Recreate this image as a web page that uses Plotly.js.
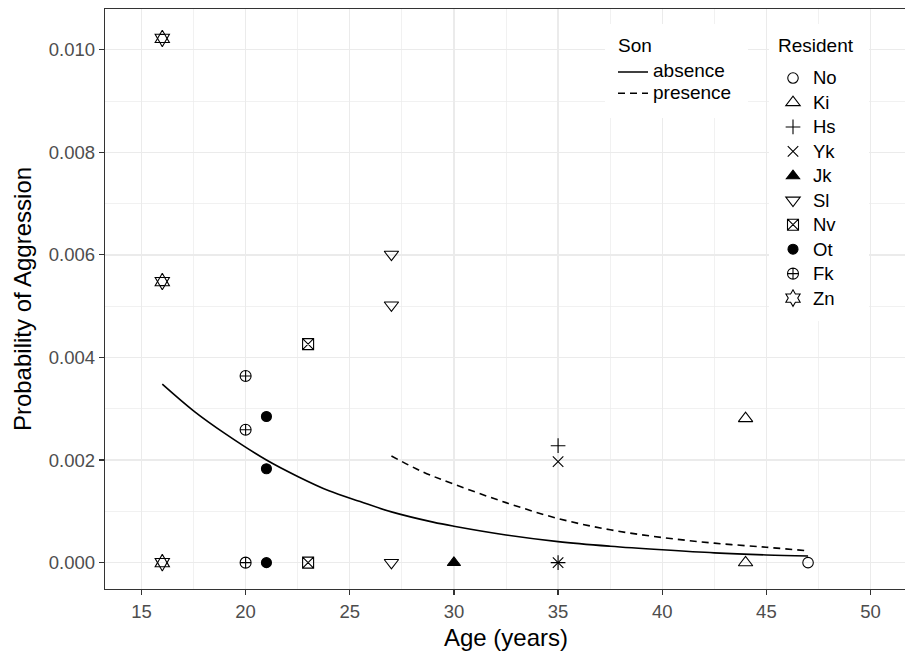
<!DOCTYPE html>
<html>
<head>
<meta charset="utf-8">
<script src="https://cdn.plot.ly/plotly-3.0.1.min.js"></script>
<style>
  html, body { margin: 0; padding: 0; overflow: hidden; background: #ffffff; }
  #chart { width: 910px; height: 656px; }
</style>
</head>
<body>
<div id="chart"></div>
<script>
// ---------------- data ----------------
const sonLevels = ['absence', 'presence'];

const ageAbsence  = [16, 17.5, 19, 21, 22.5, 24, 25.5, 27, 29, 30, 32.5, 35, 37.5, 40, 42.5, 45, 47];
const probAbsence = [0.00348, 0.00296, 0.00252, 0.00200, 0.00168, 0.00140, 0.00119, 0.00099, 0.00079, 0.00071, 0.00054, 0.00041, 0.00032, 0.00025, 0.00019, 0.00015, 0.00013];

const agePresence  = [27, 28.5, 30, 32.5, 35, 37.5, 40, 42.5, 45, 47];
const probPresence = [0.00208, 0.00177, 0.00153, 0.00117, 0.00086, 0.00064, 0.00049, 0.00038, 0.00030, 0.00023];

const residents = ['No', 'Ki', 'Hs', 'Yk', 'Jk', 'Sl', 'Nv', 'Ot', 'Fk', 'Zn'];

const ageNo = [47];           const probNo = [0];
const ageKi = [44, 44];       const probKi = [0.00281, 0];
const ageHs = [35, 35];       const probHs = [0.00228, 0];
const ageYk = [35, 35];       const probYk = [0.00197, 0];
const ageJk = [30];           const probJk = [0];
const ageSl = [27, 27, 27];   const probSl = [0.00601, 0.00502, 0];
const ageNv = [23, 23];       const probNv = [0.00426, 0];
const ageOt = [21, 21, 21];   const probOt = [0.00285, 0.00183, 0];
const ageFk = [20, 20, 20];   const probFk = [0.00364, 0.00259, 0];
const ageZn = [16, 16, 16];   const probZn = [0.01022, 0.00548, 0];

const xTickVals = [15, 20, 25, 30, 35, 40, 45, 50];
const yTickVals = [0, 0.002, 0.004, 0.006, 0.008, 0.010];

const sonTitle = 'Son';
const residentTitle = 'Resident';

// ---------------- styles ----------------
const FONT = 'Liberation Sans, Arial, Helvetica, sans-serif';
const residentData = {
  No: [ageNo, probNo], Ki: [ageKi, probKi], Hs: [ageHs, probHs], Yk: [ageYk, probYk],
  Jk: [ageJk, probJk], Sl: [ageSl, probSl], Nv: [ageNv, probNv], Ot: [ageOt, probOt],
  Fk: [ageFk, probFk], Zn: [ageZn, probZn]
};
const residentStyle = {
  No: { symbol: 'circle-open', size: 10.5 },
  Ki: { symbol: 'triangle-up-open', size: 12.5 },
  Hs: { symbol: 'cross-thin-open', size: 10.5 },
  Yk: { symbol: 'x-thin-open', size: 10.5 },
  Jk: { symbol: 'triangle-up', size: 11.5 },
  Sl: { symbol: 'triangle-down-open', size: 12.5 },
  Nv: { symbol: 'square-x-open', size: 11 },
  Ot: { symbol: 'circle', size: 10 },
  Fk: { symbol: 'circle-cross-open', size: 11 },
  Zn: { symbol: 'hexagram-open', size: 12.5 }
};
function big(txt, px) { return '<span style="font-size:' + px + 'px">' + txt + '</span>'; }

const traces = [];
traces.push({
  type: 'scatter', mode: 'lines', name: big(sonLevels[0], 19), legend: 'legend',
  x: ageAbsence, y: probAbsence,
  line: { color: '#000000', width: 1.6, shape: 'spline', dash: 'solid' },
  hoverinfo: 'x+y'
});
traces.push({
  type: 'scatter', mode: 'lines', name: big(sonLevels[1], 19), legend: 'legend',
  x: agePresence, y: probPresence,
  line: { color: '#000000', width: 1.6, shape: 'spline', dash: '7px,5px' },
  hoverinfo: 'x+y'
});

residents.forEach(function (r) {
  const st = residentStyle[r];
  traces.push({
    type: 'scatter', mode: 'markers', name: big(r, 18.5), legend: 'legend2',
    x: residentData[r][0], y: residentData[r][1],
    marker: {
      symbol: st.symbol, size: st.size, color: '#000000',
      line: { color: '#000000', width: 1.1 }
    },
    cliponaxis: false
  });
  if (r === 'Zn') {
    // inner hexagon gives the two overlapping triangles their inner edges
    traces.push({
      type: 'scatter', mode: 'markers', name: r, legend: 'legend2', showlegend: false,
      x: residentData[r][0], y: residentData[r][1],
      marker: {
        symbol: 'hexagon2-open', size: st.size * 0.76, color: '#000000',
        line: { color: '#000000', width: 1.1 }
      },
      hoverinfo: 'skip'
    });
  }
});

// pixel helpers for the plot area (105..907 x 9..589)
function px2x(p) { return (p - 105) / 802; }
function px2y(p) { return (589 - p) / 580; }

const gridCol = '#EBEBEB';
const layout = {
  width: 910, height: 656,
  margin: { l: 105, r: 3, t: 9, b: 67 },
  paper_bgcolor: '#ffffff', plot_bgcolor: '#ffffff',
  font: { family: FONT, color: '#000000' },
  xaxis: {
    range: [13.25, 51.75],
    tickvals: xTickVals,
    ticks: 'outside', ticklen: 5, tickwidth: 1.2, tickcolor: '#333333',
    tickfont: { family: FONT, size: 18.5, color: '#4D4D4D' },
    showgrid: true, gridcolor: gridCol, gridwidth: 1.4,
    minor: { dtick: 2.5, tick0: 0, showgrid: true, gridcolor: gridCol, gridwidth: 0.7, ticks: '' },
    showline: true, linecolor: '#333333', linewidth: 1.3, mirror: true,
    zeroline: false,
    title: { text: 'Age (years)', font: { family: FONT, size: 24, color: '#000000' }, standoff: 8 }
  },
  yaxis: {
    range: [-0.000514, 0.010794],
    tickvals: yTickVals, tickformat: '.3f',
    ticks: 'outside', ticklen: 5, tickwidth: 1.2, tickcolor: '#333333',
    tickfont: { family: FONT, size: 18.5, color: '#4D4D4D' },
    showgrid: true, gridcolor: gridCol, gridwidth: 1.4,
    minor: { dtick: 0.001, tick0: 0, showgrid: true, gridcolor: gridCol, gridwidth: 0.7, ticks: '' },
    showline: true, linecolor: '#333333', linewidth: 1.3, mirror: true,
    zeroline: false,
    title: { text: 'Probability of Aggression', font: { family: FONT, size: 24, color: '#000000' }, standoff: 10 }
  },
  shapes: [
    { type: 'rect', xref: 'paper', yref: 'paper', layer: 'above',
      x0: px2x(605), x1: px2x(748), y0: px2y(118), y1: px2y(24),
      fillcolor: '#ffffff', line: { width: 0 } },
    { type: 'rect', xref: 'paper', yref: 'paper', layer: 'above',
      x0: px2x(769), x1: px2x(869), y0: px2y(321), y1: px2y(24),
      fillcolor: '#ffffff', line: { width: 0 } }
  ],
  annotations: [
    { text: sonTitle, xref: 'paper', yref: 'paper', x: px2x(616), y: px2y(46),
      xanchor: 'left', yanchor: 'middle', showarrow: false,
      font: { family: FONT, size: 19, color: '#000000' } },
    { text: residentTitle, xref: 'paper', yref: 'paper', x: px2x(776), y: px2y(46),
      xanchor: 'left', yanchor: 'middle', showarrow: false,
      font: { family: FONT, size: 19, color: '#000000' } }
  ],
  legend: {
    x: px2x(613), xanchor: 'left', y: px2y(56.4), yanchor: 'top',
    bgcolor: 'rgba(0,0,0,0)', borderwidth: 0,
    font: { family: FONT, size: 14, color: '#000000' },
    traceorder: 'normal', tracegroupgap: 0
  },
  legend2: {
    x: px2x(773), xanchor: 'left', y: px2y(60.8), yanchor: 'top',
    bgcolor: 'rgba(0,0,0,0)', borderwidth: 0,
    font: { family: FONT, size: 16.5, color: '#000000' },
    traceorder: 'normal', tracegroupgap: 0
  },
  showlegend: true
};

Plotly.newPlot('chart', traces, layout, { displayModeBar: false, staticPlot: true });
</script>
</body>
</html>
